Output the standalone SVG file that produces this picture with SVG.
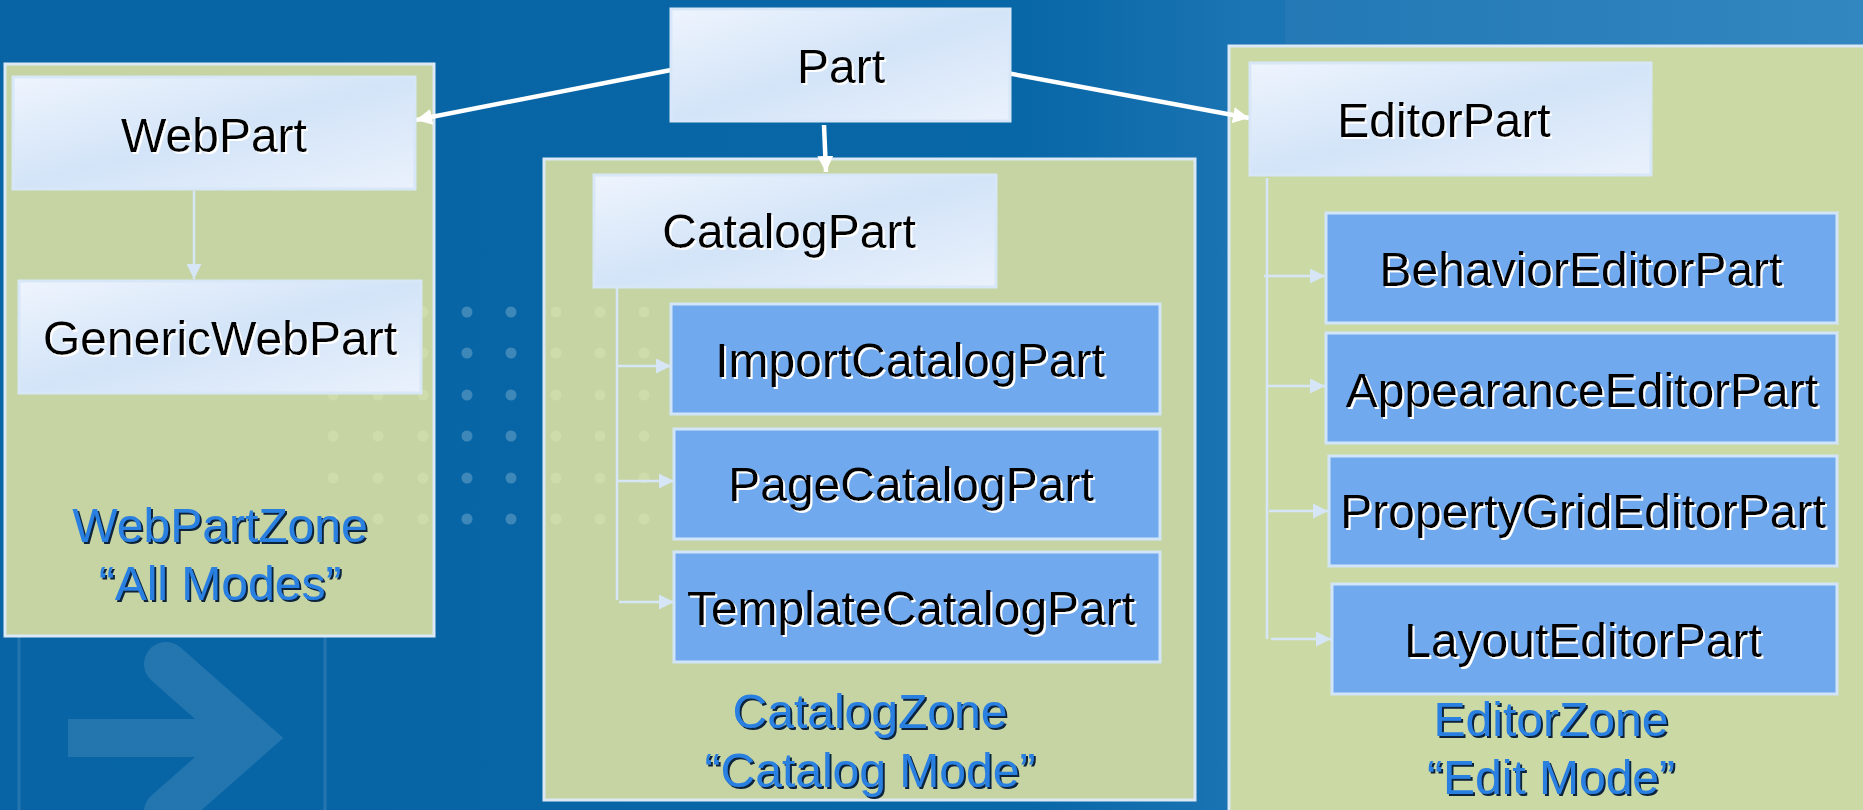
<svg xmlns="http://www.w3.org/2000/svg" width="1863" height="810" viewBox="0 0 1863 810">
  <defs>
    <linearGradient id="bg" x1="0" y1="0" x2="1" y2="0">
      <stop offset="0" stop-color="#0864a4"/>
      <stop offset="0.55" stop-color="#0867a7"/>
      <stop offset="0.66" stop-color="#1a73b2"/>
      <stop offset="1" stop-color="#2b83be"/>
    </linearGradient>
    <linearGradient id="pale" x1="0" y1="0" x2="1" y2="1">
      <stop offset="0" stop-color="#eef4fd"/>
      <stop offset="0.5" stop-color="#d3e4f8"/>
      <stop offset="1" stop-color="#eaf1fc"/>
    </linearGradient>
    <filter id="shW" x="-5%" y="-20%" width="110%" height="140%">
      <feDropShadow dx="2" dy="2" stdDeviation="0" flood-color="#ffffff" flood-opacity="1"/>
    </filter>
    <filter id="shD" x="-5%" y="-20%" width="110%" height="140%">
      <feDropShadow dx="2" dy="2" stdDeviation="0" flood-color="#10243a" flood-opacity="1"/>
    </filter>
    <marker id="big" viewBox="0 0 10 10" refX="10" refY="5" markerWidth="16" markerHeight="16" markerUnits="userSpaceOnUse" orient="auto">
      <path d="M0,0 L10,5 L0,10 z" fill="#ffffff"/>
    </marker>
    <marker id="small" viewBox="0 0 10 10" refX="10" refY="5" markerWidth="15" markerHeight="15" markerUnits="userSpaceOnUse" orient="auto">
      <path d="M0,0 L10,5 L0,10 z" fill="#d6e6f7"/>
    </marker>
    <style>
      .zone { fill: #c5d4a2; stroke: #dbe8f5; stroke-width: 3; }
      .zoneE { fill: #cbd9a5; stroke: #dbe8f5; stroke-width: 3; }
      .pale { fill: url(#pale); stroke: #d7e7f8; stroke-width: 3; }
      .blue { fill: #70a9ee; stroke: #d2e5f8; stroke-width: 3; }
      .t { font-family: "Liberation Sans", Arial, sans-serif; font-size: 48px; text-anchor: middle; fill: #000000; filter: url(#shW); }
      .z { font-family: "Liberation Sans", Arial, sans-serif; font-size: 48px; text-anchor: middle; fill: #2b80e1; filter: url(#shD); }
      .main { stroke: #ffffff; stroke-width: 4.5; fill: none; marker-end: url(#big); }
      .sub { stroke: #d6e6f7; stroke-width: 2.5; fill: none; }
      .subA { stroke: #d6e6f7; stroke-width: 2.5; fill: none; marker-end: url(#small); }
      .dotB { fill: #ffffff; opacity: 0.22; }
      .dotG { fill: #f4f8d0; opacity: 0.2; }
    </style>
  </defs>

  <!-- backdrop -->
  <rect x="0" y="0" width="1863" height="810" fill="url(#bg)"/>
  <rect x="1285" y="0" width="578" height="46" fill="#ffffff" opacity="0.035"/>
  <g id="backdrop-arrow" opacity="0.11" fill="none" stroke="#ffffff">
    <rect x="19" y="593" width="306" height="260" rx="40" stroke-width="3"/>
    <path d="M68 738 H230" stroke-width="38"/>
    <path d="M166 664 L250 738 L166 812" stroke-width="44" stroke-linecap="round" stroke-linejoin="miter"/>
  </g>
  <g id="backdrop-dots">
    <g class="dotB">
      <circle cx="467" cy="312" r="5.5"/><circle cx="511" cy="312" r="5.5"/>
      <circle cx="467" cy="353" r="5.5"/><circle cx="511" cy="353" r="5.5"/>
      <circle cx="467" cy="395" r="5.5"/><circle cx="511" cy="395" r="5.5"/>
      <circle cx="467" cy="436" r="5.5"/><circle cx="511" cy="436" r="5.5"/>
      <circle cx="467" cy="478" r="5.5"/><circle cx="511" cy="478" r="5.5"/>
      <circle cx="467" cy="519" r="5.5"/><circle cx="511" cy="519" r="5.5"/>
    </g>
  </g>

  <!-- zones -->
  <g id="zone-webpart">
    <rect class="zone" x="5" y="64" width="429" height="572"/>
  </g>
  <g id="zone-catalog">
    <rect class="zone" x="544" y="159" width="651" height="641"/>
  </g>
  <g id="zone-editor">
    <rect class="zoneE" x="1229" y="46" width="640" height="770"/>
  </g>

  <!-- faint dots showing through the zones -->
  <g class="dotG">
    <circle cx="333" cy="312" r="5.5"/><circle cx="378" cy="312" r="5.5"/><circle cx="423" cy="312" r="5.5"/>
    <circle cx="333" cy="353" r="5.5"/><circle cx="378" cy="353" r="5.5"/><circle cx="423" cy="353" r="5.5"/>
    <circle cx="333" cy="395" r="5.5"/><circle cx="378" cy="395" r="5.5"/><circle cx="423" cy="395" r="5.5"/>
    <circle cx="333" cy="436" r="5.5"/><circle cx="378" cy="436" r="5.5"/><circle cx="423" cy="436" r="5.5"/>
    <circle cx="333" cy="478" r="5.5"/><circle cx="378" cy="478" r="5.5"/><circle cx="423" cy="478" r="5.5"/>
    <circle cx="333" cy="519" r="5.5"/><circle cx="378" cy="519" r="5.5"/><circle cx="423" cy="519" r="5.5"/>
    <circle cx="556" cy="312" r="5.5"/><circle cx="600" cy="312" r="5.5"/><circle cx="644" cy="312" r="5.5"/>
    <circle cx="556" cy="353" r="5.5"/><circle cx="600" cy="353" r="5.5"/><circle cx="644" cy="353" r="5.5"/>
    <circle cx="556" cy="395" r="5.5"/><circle cx="600" cy="395" r="5.5"/><circle cx="644" cy="395" r="5.5"/>
    <circle cx="556" cy="436" r="5.5"/><circle cx="600" cy="436" r="5.5"/><circle cx="644" cy="436" r="5.5"/>
    <circle cx="556" cy="478" r="5.5"/><circle cx="600" cy="478" r="5.5"/><circle cx="644" cy="478" r="5.5"/>
    <circle cx="556" cy="519" r="5.5"/><circle cx="600" cy="519" r="5.5"/><circle cx="644" cy="519" r="5.5"/>
  </g>

  <!-- connectors -->
  <g id="connectors">
    <path class="main" d="M671 70 L416 120"/>
    <path class="main" d="M824 125 L826 172"/>
    <path class="main" d="M1007 73 L1249 118"/>
    <path class="subA" d="M194 191 V279"/>
    <path class="sub" d="M617 287 V600"/>
    <path class="subA" d="M617 366 H671"/>
    <path class="subA" d="M617 481 H674"/>
    <path class="subA" d="M619 602 H674"/>
    <path class="sub" d="M1267 178 V639"/>
    <path class="subA" d="M1264 276 H1325"/>
    <path class="subA" d="M1267 386 H1325"/>
    <path class="subA" d="M1269 511 H1328"/>
    <path class="subA" d="M1271 639 H1331"/>
  </g>

  <!-- nodes -->
  <g id="node-part">
    <rect class="pale" x="671" y="9" width="339" height="112"/>
    <text class="t" x="841" y="83">Part</text>
  </g>
  <g id="node-webpart">
    <rect class="pale" x="13" y="77" width="402" height="112"/>
    <text class="t" x="214" y="152">WebPart</text>
  </g>
  <g id="node-genericwebpart">
    <rect class="pale" x="19" y="281" width="402" height="112"/>
    <text class="t" x="220" y="355">GenericWebPart</text>
  </g>
  <g id="label-webpartzone">
    <text class="z" x="220" y="542">WebPartZone</text>
    <text class="z" x="220" y="600">“All Modes”</text>
  </g>

  <g id="node-catalogpart">
    <rect class="pale" x="594" y="175" width="402" height="112"/>
    <text class="t" x="789" y="248">CatalogPart</text>
  </g>
  <g id="node-importcatalogpart">
    <rect class="blue" x="671" y="304" width="489" height="110"/>
    <text class="t" x="910" y="377">ImportCatalogPart</text>
  </g>
  <g id="node-pagecatalogpart">
    <rect class="blue" x="674" y="429" width="486" height="110"/>
    <text class="t" x="911" y="501">PageCatalogPart</text>
  </g>
  <g id="node-templatecatalogpart">
    <rect class="blue" x="674" y="552" width="486" height="110"/>
    <text class="t" x="911" y="625">TemplateCatalogPart</text>
  </g>
  <g id="label-catalogzone">
    <text class="z" x="870" y="728">CatalogZone</text>
    <text class="z" x="870" y="787">“Catalog Mode”</text>
  </g>

  <g id="node-editorpart">
    <rect class="pale" x="1250" y="63" width="401" height="112"/>
    <text class="t" x="1444" y="137">EditorPart</text>
  </g>
  <g id="node-behavioreditorpart">
    <rect class="blue" x="1326" y="213" width="511" height="110"/>
    <text class="t" x="1581" y="286">BehaviorEditorPart</text>
  </g>
  <g id="node-appearanceeditorpart">
    <rect class="blue" x="1326" y="333" width="511" height="110"/>
    <text class="t" x="1582" y="407">AppearanceEditorPart</text>
  </g>
  <g id="node-propertygrideditorpart">
    <rect class="blue" x="1329" y="456" width="508" height="110"/>
    <text class="t" x="1583" y="528">PropertyGridEditorPart</text>
  </g>
  <g id="node-layouteditorpart">
    <rect class="blue" x="1332" y="584" width="505" height="110"/>
    <text class="t" x="1583" y="657">LayoutEditorPart</text>
  </g>
  <g id="label-editorzone">
    <text class="z" x="1551" y="736">EditorZone</text>
    <text class="z" x="1551" y="794">“Edit Mode”</text>
  </g>
</svg>
